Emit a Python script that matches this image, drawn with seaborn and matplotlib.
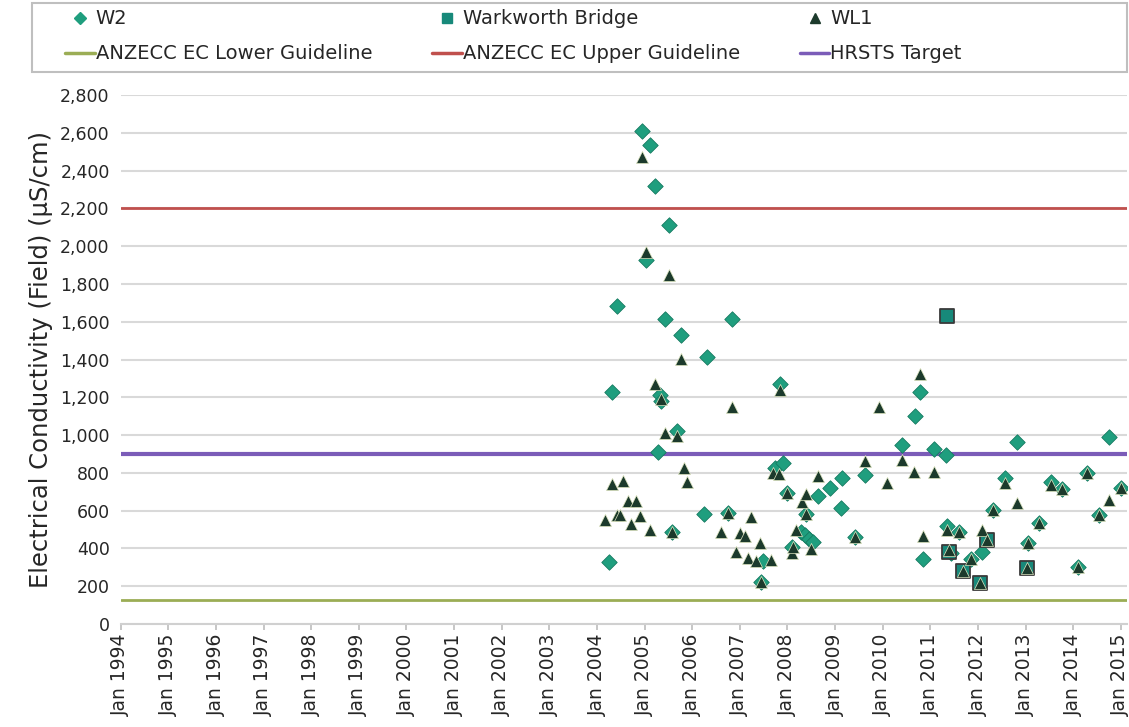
import pandas as pd
import matplotlib.pyplot as plt
import matplotlib.dates as mdates
from matplotlib.lines import Line2D
from matplotlib.patches import Rectangle
from matplotlib.ticker import FuncFormatter, MultipleLocator
import seaborn as sns

# W2 field EC (uS/cm)
w2_dates = ["2004-04-01", "2004-04-25", "2004-06-01", "2004-12-12", "2005-01-08",
            "2005-02-10", "2005-03-22", "2005-04-12", "2005-04-27", "2005-05-05",
            "2005-06-03", "2005-07-05", "2005-07-31", "2005-09-05", "2005-10-08",
            "2006-03-28", "2006-04-23", "2006-10-01", "2006-11-03", "2007-06-14",
            "2007-06-28", "2007-10-01", "2007-11-03", "2007-11-28", "2008-01-01",
            "2008-02-06", "2008-04-16", "2008-05-15", "2008-05-22", "2008-06-13",
            "2008-07-16", "2008-08-22", "2008-11-21", "2009-02-17", "2009-02-24",
            "2009-05-30", "2009-08-15", "2010-05-30", "2010-09-02", "2010-10-12",
            "2010-11-07", "2011-01-30", "2011-04-27", "2011-05-05", "2011-06-10",
            "2011-08-08", "2011-11-10", "2012-02-03", "2012-04-23", "2012-07-24",
            "2012-10-23", "2013-01-15", "2013-04-16", "2013-07-16", "2013-10-08",
            "2014-02-06", "2014-04-20", "2014-07-16", "2014-10-01", "2015-01-04"]
w2_ec = [326, 1230, 1682, 2608, 1926,
         2539, 2317, 908, 1210, 1181,
         1612, 2111, 488, 1020, 1529,
         582, 1411, 586, 1612, 221,
         335, 824, 1270, 850, 691,
         409, 488, 470, 580, 450,
         435, 679, 721, 612, 774,
         462, 788, 947, 1100, 1229,
         342, 924, 892, 520, 375,
         484, 342, 382, 603, 770,
         965, 427, 533, 753, 712,
         303, 797, 577, 991, 718]

# Warkworth Bridge
wb_dates = ["2011-05-05", "2011-05-27", "2011-09-09", "2012-01-15", "2012-03-07", "2013-01-11"]
wb_ec = [1630, 380, 277, 215, 444, 295]

# WL1
wl1_dates = ["2004-03-01", "2004-04-25", "2004-06-01", "2004-06-27", "2004-07-19",
             "2004-08-25", "2004-09-20", "2004-10-23", "2004-11-25", "2004-12-12",
             "2005-01-08", "2005-02-10", "2005-03-18", "2005-05-05", "2005-06-03",
             "2005-07-05", "2005-07-31", "2005-09-05", "2005-10-08", "2005-10-30",
             "2005-11-25", "2006-08-08", "2006-10-01", "2006-11-03", "2006-12-06",
             "2007-01-01", "2007-02-06", "2007-03-01", "2007-03-28", "2007-05-01",
             "2007-06-03", "2007-06-14", "2007-08-29", "2007-09-13", "2007-10-27",
             "2007-11-03", "2008-01-01", "2008-02-06", "2008-02-10", "2008-03-10",
             "2008-04-23", "2008-05-22", "2008-05-20", "2008-07-01", "2008-08-22",
             "2009-05-30", "2009-08-15", "2009-12-01", "2010-02-03", "2010-05-30",
             "2010-08-29", "2010-10-12", "2010-11-07", "2011-01-30", "2011-05-05",
             "2011-05-27", "2011-08-08", "2011-09-09", "2011-11-10", "2012-01-15",
             "2012-02-03", "2012-03-07", "2012-04-23", "2012-07-24", "2012-10-23",
             "2013-01-11", "2013-01-15", "2013-04-16", "2013-07-16", "2013-10-08",
             "2014-02-06", "2014-04-20", "2014-07-16", "2014-10-01", "2015-01-04"]
wl1_ec = [550, 739, 577, 577, 756,
          652, 529, 652, 573, 2472,
          1970, 497, 1268, 1190, 1012,
          1846, 488, 995, 1405, 824,
          753, 488, 586, 1150, 382,
          481, 466, 347, 568, 330,
          430, 221, 339, 797, 794,
          1240, 691, 374, 409, 497,
          647, 688, 580, 397, 783,
          462, 862, 1146, 744, 868,
          806, 1322, 466, 806, 497,
          391, 484, 277, 342, 215,
          497, 444, 603, 748, 638,
          295, 427, 533, 735, 712,
          303, 797, 577, 656, 718]

lower_guideline = 125
upper_guideline = 2200
hrsts_target = 900

sns.set_theme(style="white")
plt.rcParams['font.family'] = ['DejaVu Sans']
plt.rcParams['text.color'] = '#262626'

w2 = pd.DataFrame({'date': pd.to_datetime(w2_dates), 'ec': w2_ec})
wb = pd.DataFrame({'date': pd.to_datetime(wb_dates), 'ec': wb_ec})
wl1 = pd.DataFrame({'date': pd.to_datetime(wl1_dates), 'ec': wl1_ec})

fig = plt.figure(figsize=(11.29, 7.27), dpi=100)
ax = fig.add_axes([0.107, 0.142, 0.891, 0.727])

w2_col = '#1f9e7e'
wb_col = '#17897a'
wl1_col = '#1c3a2c'
low_col = '#9bad55'
up_col = '#c0504d'
hr_col = '#7b5cb8'

ax.axhline(lower_guideline, color=low_col, lw=2, zorder=2)
ax.axhline(upper_guideline, color=up_col, lw=2, zorder=2)
ax.axhline(hrsts_target, color=hr_col, lw=3, zorder=2)

sns.scatterplot(data=w2, x='date', y='ec', marker='D', s=62, color=w2_col,
                edgecolor='#157a60', linewidth=0.6, ax=ax, zorder=3)
sns.scatterplot(data=wb, x='date', y='ec', marker='s', s=95, color=wb_col,
                edgecolor='#3a3a3a', linewidth=1.3, ax=ax, zorder=4)
sns.scatterplot(data=wl1, x='date', y='ec', marker='^', s=75, color=wl1_col,
                edgecolor='#dfe6c0', linewidth=0.5, ax=ax, zorder=5)

ax.set_xlim(pd.Timestamp('1994-01-01'), pd.Timestamp('2015-02-15'))
ax.set_ylim(0, 2800)
ax.yaxis.set_major_locator(MultipleLocator(200))
ax.yaxis.set_major_formatter(FuncFormatter(lambda v, p: f'{v:,.0f}'))
ax.xaxis.set_major_locator(mdates.YearLocator(1, month=1, day=1))
ax.xaxis.set_major_formatter(mdates.DateFormatter('%b %Y'))
ax.tick_params(axis='x', rotation=90, labelsize=13.5, length=4, color='#bfbfbf',
               bottom=True, pad=3, labelcolor='#262626')
ax.tick_params(axis='y', labelsize=12.5, length=0, pad=8, labelcolor='#262626')
ax.yaxis.grid(True, color='#d9d9d9', lw=1.5, zorder=0)
ax.set_axisbelow(True)
for side in ['top', 'right', 'left']:
    ax.spines[side].set_visible(False)
ax.spines['bottom'].set_color('#d0d0d0')
ax.spines['bottom'].set_linewidth(1.5)

ax.set_xlabel('')
ax.set_ylabel('Electrical Conductivity (Field) (µS/cm)', fontsize=17.5, labelpad=5,
              color='#262626')

handles = [
    Line2D([], [], ls='', marker='D', ms=6, color=w2_col, label='W2'),
    Line2D([], [], color=low_col, lw=2.5, label='ANZECC EC Lower Guideline'),
    Line2D([], [], ls='', marker='s', ms=7, color=wb_col, label='Warkworth Bridge'),
    Line2D([], [], color=up_col, lw=2.5, label='ANZECC EC Upper Guideline'),
    Line2D([], [], ls='', marker='^', ms=7, color=wl1_col, label='WL1'),
    Line2D([], [], color=hr_col, lw=2.5, label='HRSTS Target'),
]
fig.legend(handles=handles, ncol=3, loc='upper left', bbox_to_anchor=(0.058, 0.987),
           frameon=False, fontsize=14, handlelength=1.5, handletextpad=0.05,
           columnspacing=3.1, labelspacing=0.82, borderpad=0, borderaxespad=0)
fig.patches.append(Rectangle((0.028, 0.901), 0.970, 0.095, transform=fig.transFigure,
                             fill=False, edgecolor='#bfbfbf', lw=1.5))

fig.savefig('out.png', dpi=100)
